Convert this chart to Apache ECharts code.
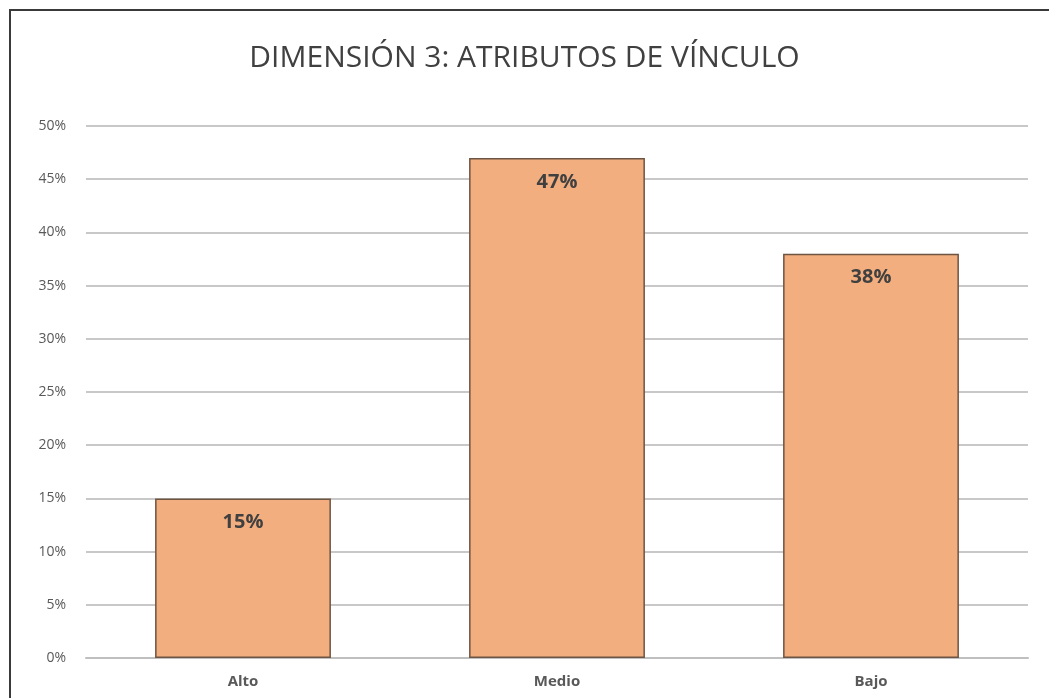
<!DOCTYPE html>
<html lang="es">
<head>
    <meta charset="UTF-8">
    <title>Dimensión 3</title>
    <style>
        *{ padding: 0; margin: 0; }
        html, body{ width: 100%; height: 100%; background: #fff; }
        #main{ width: 1049px; height: 698px; }
    </style>
</head>
<body>
<div id="main"></div>
<script src="https://cdn.jsdelivr.net/npm/echarts@6/dist/echarts.min.js"></script>
<script>
    var titulo = 'DIMENSIÓN 3: ATRIBUTOS DE VÍNCULO';
    var categorias = ['Alto', 'Medio', 'Bajo'];
    var valores = [15, 47, 38];

    var myChart = echarts.init(document.getElementById('main'));
    var option = {
        backgroundColor: '#fff',
        title: {
            text: titulo,
            left: 'center',
            top: 38,
            textStyle: {
                fontFamily: 'Open Sans',
                fontSize: 30,
                fontWeight: 'normal',
                color: '#404040'
            }
        },
        graphic: [{
            type: 'rect',
            shape: { x: 10, y: 10, width: 1200, height: 1200 },
            style: { fill: 'none', stroke: '#3a3a3a', lineWidth: 2 },
            silent: true
        }],
        grid: { left: 86, right: 21, top: 126, bottom: 40 },
        xAxis: {
            type: 'category',
            data: categorias,
            axisLine: { lineStyle: { color: '#bfbfbf', width: 2 } },
            axisTick: { show: false },
            axisLabel: {
                margin: 16,
                fontFamily: 'Open Sans',
                fontSize: 15,
                fontWeight: 'bold',
                color: '#595959'
            }
        },
        yAxis: {
            type: 'value',
            min: 0,
            max: 50,
            interval: 5,
            axisLine: { show: false },
            axisTick: { show: false },
            splitLine: { lineStyle: { color: '#c8c8c8', width: 2 } },
            axisLabel: {
                margin: 20,
                fontFamily: 'Open Sans',
                fontSize: 14,
                color: '#595959',
                formatter: '{value}%'
            }
        },
        series: [{
            type: 'bar',
            data: valores,
            barWidth: '56%',
            itemStyle: {
                color: '#f2ae7e',
                borderColor: '#6e5443',
                borderWidth: 1.5
            },
            label: {
                show: true,
                position: 'insideTop',
                distance: 14,
                fontFamily: 'Open Sans',
                fontSize: 20,
                fontWeight: 'bold',
                color: '#404040',
                formatter: '{c}%'
            }
        }]
    };
    myChart.setOption(option);
</script>
</body>
</html>
